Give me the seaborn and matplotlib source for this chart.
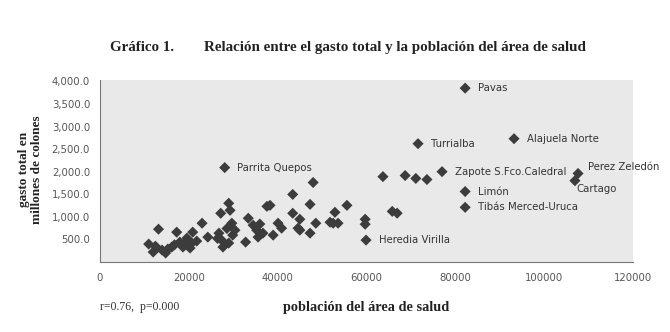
import numpy as np
import pandas as pd
import seaborn as sns
import matplotlib.pyplot as plt
from matplotlib.ticker import FuncFormatter

# población del área de salud vs gasto total (millones de colones)
poblacion = [
    11000, 13200, 12000, 12800, 14000, 14800, 15300, 16200, 17300, 18000,
    18700, 19100, 19600, 20300, 20700, 20900, 21800, 23000, 24300, 26800,
    27200, 27400, 27700, 29000, 29300, 29000, 29700, 29900, 30400, 32800,
    33400, 34500, 35300, 35600, 36700, 37600, 38300, 39000, 40100, 40900,
    43400, 43400, 45000, 44600, 47300, 47300, 48600, 48000, 52500, 52900,
    53600, 55600, 51800, 45000, 12500, 16800, 19800, 26500, 28600, 36000,
    59700, 59700, 65800, 66900, 63700, 68700, 71100, 73600,
    82200, 93200, 71600, 77000, 107600, 106900, 82200, 82200, 59900, 28100,
]
gasto = [
    396, 726, 220, 308, 264, 198, 286, 330, 660, 440,
    330, 418, 528, 308, 418, 660, 462, 858, 550, 638,
    1078, 484, 330, 1300, 1144, 418, 858, 594, 704, 440,
    968, 814, 704, 550, 638, 1232, 1254, 594, 858, 748,
    1496, 1078, 946, 748, 1276, 638, 858, 1760, 858, 1100,
    858, 1254, 880, 704, 350, 380, 360, 520, 740, 840,
    946, 836, 1120, 1080, 1890, 1914, 1850, 1826,
    3850, 2730, 2620, 2000, 1960, 1800, 1560, 1210, 484, 2090,
]
etiquetas = {
    'Pavas': (82200, 3850), 'Alajuela Norte': (93200, 2730), 'Turrialba': (71600, 2620),
    'Zapote S.Fco.Caledral': (77000, 2000), 'Limón': (82200, 1560),
    'Tibás Merced-Uruca': (82200, 1210), 'Heredia Virilla': (59900, 484),
    'Parrita Quepos': (28100, 2090),
}

df = pd.DataFrame({'poblacion': poblacion, 'gasto': gasto})

sns.set_style('white')
fig = plt.figure(figsize=(6.7, 3.32), dpi=100)
ax = fig.add_axes([0.149, 0.211, 0.796, 0.548])
ax.set_facecolor('#e9e9e9')

sns.scatterplot(data=df, x='poblacion', y='gasto', marker='D', s=32,
                color='#3c3c3c', edgecolor='none', ax=ax)

for name, (x, y) in etiquetas.items():
    ax.annotate(name, (x, y), xytext=(9, 0), textcoords='offset points',
                va='center', fontsize=7.3, color='#333333')
ax.annotate('Perez Zeledón', (107600, 1960), xytext=(7, 5), textcoords='offset points',
            va='center', fontsize=7.3, color='#333333')
ax.annotate('Cartago', (106900, 1800), xytext=(1, -6), textcoords='offset points',
            va='center', fontsize=7.3, color='#333333')

ax.set_xlim(0, 120000)
ax.set_ylim(0, 4030)
ax.set_xticks(range(0, 120001, 20000))
ax.set_yticks(range(500, 4001, 500))
ax.yaxis.set_major_formatter(FuncFormatter(lambda v, p: f'{v:,.1f}'))
ax.tick_params(axis='both', labelsize=7.3, colors='#555555', length=3, direction='in')
ax.tick_params(axis='x', pad=8)
ax.tick_params(axis='y', pad=7)
for s in ['top', 'right']:
    ax.spines[s].set_visible(False)
for s in ['left', 'bottom']:
    ax.spines[s].set_color('#777777')
    ax.spines[s].set_linewidth(0.8)

ax.set_xlabel('')
ax.set_ylabel('')
serif = 'Liberation Serif'
fig.text(0.52, 0.858, 'Gráfico 1.        Relación entre el gasto total y la población del área de salud',
         ha='center', va='center', fontsize=10.8, fontweight='bold', family=serif, color='#222222')
fig.text(0.045, 0.49, 'gasto total en\nmillones de colones', rotation=90, ha='center', va='center',
         fontsize=9.5, fontweight='bold', family=serif, color='#222222', linespacing=1.1)
fig.text(0.547, 0.075, 'población del área de salud', ha='center', va='center',
         fontsize=10.3, fontweight='bold', family=serif, color='#222222')
fig.text(0.149, 0.075, 'r=0.76,  p=0.000', ha='left', va='center',
         fontsize=8.5, family=serif, color='#333333')

fig.savefig('out.png', dpi=100)
